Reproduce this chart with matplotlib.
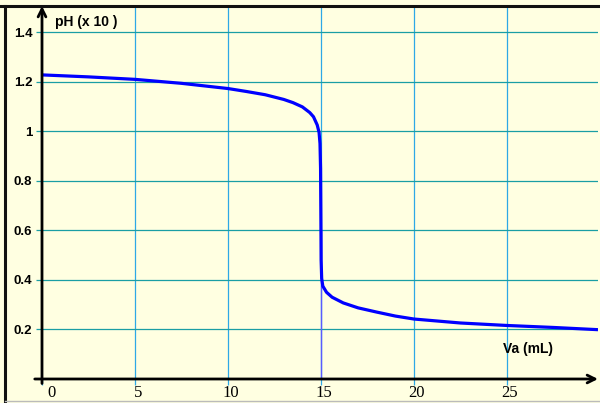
import numpy as np
import matplotlib.pyplot as plt
from matplotlib.transforms import ScaledTranslation
from matplotlib.lines import Line2D

# ---- data ----
va_ml = [0.0, 2.5, 5.0, 7.5, 10.0, 11.0, 12.0, 13.0, 13.5, 14.0, 14.4,
         14.6, 14.8, 14.9, 14.95, 14.98, 15.0, 15.01, 15.04, 15.1, 15.3,
         15.6, 16.2, 17.0, 18.0, 19.0, 20.0, 22.5, 25.0, 27.5, 29.9]
ph_x10 = [1.227, 1.219, 1.209, 1.193, 1.172, 1.160, 1.147, 1.128, 1.115,
          1.098, 1.075, 1.058, 1.025, 0.995, 0.95, 0.85, 0.62, 0.48, 0.406,
          0.375, 0.350, 0.330, 0.307, 0.287, 0.270, 0.254, 0.242, 0.226,
          0.216, 0.208, 0.199]
v_equiv = 15
x_ticks = [0, 5, 10, 15, 20, 25]
y_ticks = [0.2, 0.4, 0.6, 0.8, 1.0, 1.2, 1.4]
y_tick_labels = ["0.2", "0.4", "0.6", "0.8", "1", "1.2", "1.4"]

bg = "#FFFFE1"
grid_v = "#2EA8E6"
grid_h = "#1A9EA4"

fig = plt.figure(figsize=(6.0, 4.03), dpi=100, facecolor=bg)
W, H = 600.0, 403.0
ax = fig.add_axes([42 / W, 1 - 379 / H, (598 - 42) / W, (379 - 6) / H])
ax.set_facecolor(bg)
ax.set_xlim(0, 29.9)
ax.set_ylim(0, 1.505)

for s in ax.spines.values():
    s.set_visible(False)

# grid
for xv in x_ticks[1:]:
    ax.axvline(xv, color=grid_v, lw=0.9, zorder=1)
for yv in y_ticks:
    ax.axhline(yv, color=grid_h, lw=0.9, zorder=1)

# equivalence line
ax.plot([v_equiv, v_equiv], [0, 0.6], color="#5A5AFF", lw=1.0, zorder=2)

# titration curve
ax.plot(va_ml, ph_x10, color="#0000FF", lw=2.3, solid_capstyle="butt",
        zorder=3)

# ticks
ax.set_xticks(x_ticks)
ax.set_xticklabels([str(t) for t in x_ticks], family="Liberation Serif",
                   fontsize=12)
ax.tick_params(axis="x", direction="out", length=4, width=0.9,
               color=grid_v, pad=0)
ax.set_yticks(y_ticks)
ax.set_yticklabels(y_tick_labels, family="Liberation Sans",
                   fontweight="bold", fontsize=9.5)
ax.tick_params(axis="y", direction="out", length=4, width=0.9,
               color=grid_h, pad=3)
for i, lab in enumerate(ax.get_xticklabels()):
    dx = 7 / 72 if i == 0 else 2 / 72
    lab.set_transform(lab.get_transform()
                      + ScaledTranslation(dx, 0, fig.dpi_scale_trans))

# axes with arrows
ax.annotate("", xy=(0, 1.0), xycoords="axes fraction",
            xytext=(0, -0.012), textcoords="axes fraction",
            arrowprops=dict(arrowstyle="->", lw=2, color="black",
                            mutation_scale=14, shrinkA=0, shrinkB=0),
            annotation_clip=False)
ax.annotate("", xy=(1.0, 0), xycoords="axes fraction",
            xytext=(-0.013, 0), textcoords="axes fraction",
            arrowprops=dict(arrowstyle="->", lw=2, color="black",
                            mutation_scale=14, shrinkA=0, shrinkB=0),
            annotation_clip=False)

# axis titles
ax.text(0.7, 1.442, "pH (x 10 )", family="Liberation Sans",
        fontweight="bold", fontsize=10, ha="left", va="center", zorder=4)
ax.text(24.78, 0.123, "Va (mL)", family="Liberation Sans",
        fontweight="bold", fontsize=10, ha="left", va="center", zorder=4)

# frame of the picture
fig.add_artist(Line2D([0, 1], [1 - 6 / H, 1 - 6 / H], color="#111111",
                      lw=2.2, transform=fig.transFigure))
fig.add_artist(Line2D([5 / W, 5 / W], [0, 1 - 6 / H], color="#111111",
                      lw=2.2, transform=fig.transFigure))
fig.add_artist(Line2D([5 / W, 1], [1 - 401 / H, 1 - 401 / H],
                      color="#BBBBBB", lw=1, transform=fig.transFigure))

fig.savefig("out.png", dpi=100, facecolor=bg)
